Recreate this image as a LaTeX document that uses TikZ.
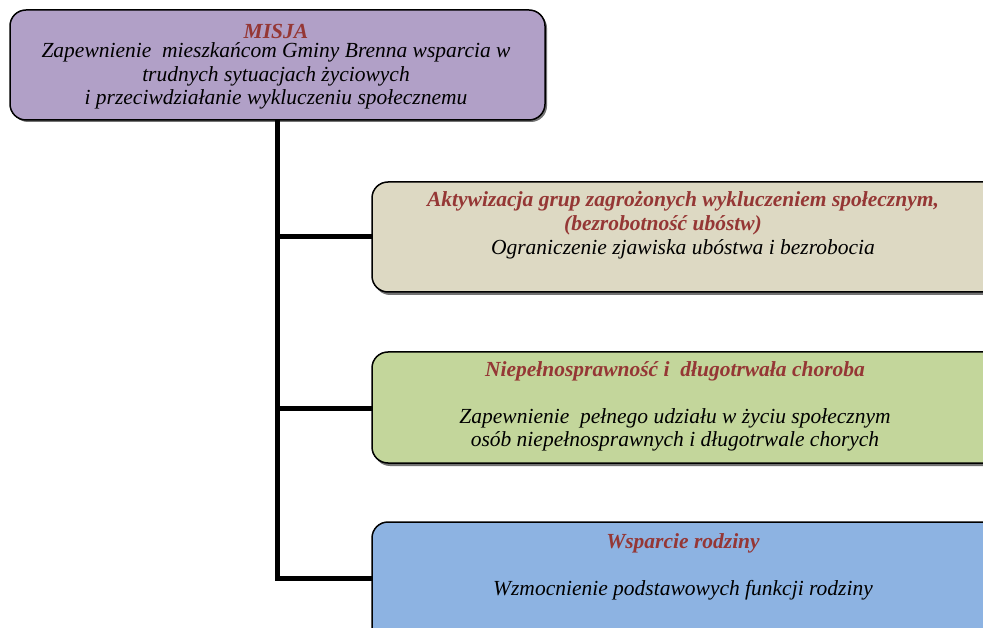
\documentclass[tikz,border=0pt]{standalone}
\usepackage{fontspec}
\setmainfont{Liberation Serif}
\definecolor{misja}{RGB}{177,160,199}
\definecolor{beige}{RGB}{221,217,195}
\definecolor{zielony}{RGB}{195,214,155}
\definecolor{niebieski}{RGB}{141,179,226}
\definecolor{tytul}{RGB}{149,55,53}
\begin{document}
\begin{tikzpicture}[x=1pt,y=-1pt,
  card/.style={draw=black, line width=1.5pt, rounded corners=16pt},
  shade/.style={fill=black!55, rounded corners=16pt},
  txt/.style={font=\fontsize{21.5}{23.5}\selectfont\itshape, align=center, inner sep=0pt},
  ttl/.style={txt, font=\fontsize{21.5}{23.5}\selectfont\itshape\bfseries, text=tytul},
  link/.style={line width=5pt}]
\useasboundingbox (0,0) rectangle (983,628);
\clip (0,0) rectangle (983,628);
% shadows
\fill[shade] (12,12) rectangle (547,122);
\fill[shade] (374,184) rectangle (1010,295);
\fill[shade] (374,354) rectangle (1010,466);
\fill[shade] (374,524) rectangle (1010,660);
% boxes
\draw[card, fill=misja] (10,10) rectangle (545,120);
\draw[card, fill=beige] (372,182) rectangle (1008,292);
\draw[card, fill=zielony] (372,352) rectangle (1008,463);
\draw[card, fill=niebieski] (372,522) rectangle (1008,658);
\coordinate (topbot) at (277,120);
\coordinate (b1) at (372,237);
\coordinate (b2) at (372,408);
\coordinate (b3) at (372,578);
\coordinate (j3) at (277,578);
% texts
\node[ttl] (t0) at (276,31) {MISJA};
\node[txt] (s0) at (276,76) {Zapewnienie\ \ mieszkańcom Gminy Brenna wsparcia w\\ trudnych sytuacjach życiowych\\ i przeciwdziałanie wykluczeniu społecznemu};
\node[ttl] (t1) at (683,213) {Aktywizacja grup zagrożonych wykluczeniem społecznym,\\ (bezrobotność ubóstw)\hspace*{40pt}};
\node[txt] (s1) at (683,249) {Ograniczenie zjawiska ubóstwa i bezrobocia};
\node[ttl] (t2) at (675,371) {Niepełnosprawność i\ \ długotrwała choroba};
\node[txt] (s2) at (675,430) {Zapewnienie\ \ pełnego udziału w życiu społecznym\\ osób niepełnosprawnych i długotrwale chorych};
\node[ttl] (t3) at (683,543) {Wsparcie rodziny};
\node[txt] (s3) at (683,590) {Wzmocnienie podstawowych funkcji rodziny};
% connectors
\draw[link] (topbot) -- (j3) -- (b3);
\draw[link] (topbot |- b1) -- (b1);
\draw[link] (topbot |- b2) -- (b2);
\end{tikzpicture}
\end{document}
